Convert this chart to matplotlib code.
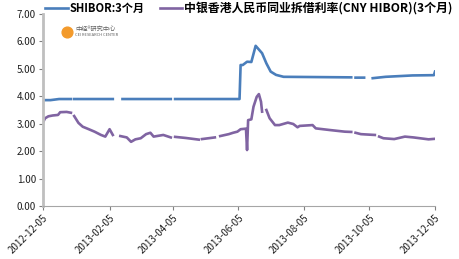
import numpy as np
import pandas as pd
import matplotlib
matplotlib.use("Agg")
import matplotlib.pyplot as plt
import matplotlib.dates as mdates
from matplotlib.lines import Line2D

plt.rcParams['font.family'] = ['Noto Sans CJK SC', 'DejaVu Sans']

nan = np.nan

# SHIBOR 3个月 (NaN = holiday gaps)
shibor_dates = ['2012-12-05', '2012-12-12', '2012-12-20', '2012-12-31', '2013-01-01',
                '2013-01-03', '2013-02-08', '2013-02-12', '2013-02-17', '2013-04-03',
                '2013-04-05', '2013-04-07', '2013-06-06', '2013-06-07', '2013-06-09',
                '2013-06-13', '2013-06-17', '2013-06-21', '2013-06-27', '2013-07-01',
                '2013-07-05', '2013-07-10', '2013-07-17', '2013-09-18', '2013-09-20',
                '2013-09-22', '2013-09-30', '2013-10-03', '2013-10-08', '2013-10-20',
                '2013-11-14', '2013-12-04', '2013-12-05']
shibor = [3.86, 3.86, 3.90, 3.90, nan,
          3.90, 3.90, nan, 3.90, 3.90,
          nan, 3.90, 3.90, 5.14, 5.14,
          5.26, 5.25, 5.84, 5.57, 5.20,
          4.90, 4.78, 4.71, 4.69, nan,
          4.68, 4.68, nan, 4.66, 4.71,
          4.76, 4.77, 4.90]

# 中银香港人民币同业拆借利率(CNY HIBOR)(3个月)
hibor_dates = ['2012-12-05', '2012-12-07', '2012-12-10', '2012-12-14', '2012-12-19',
               '2012-12-21', '2012-12-27', '2012-12-31', '2013-01-01', '2013-01-03',
               '2013-01-07', '2013-01-11', '2013-01-16', '2013-01-22', '2013-01-28',
               '2013-02-01', '2013-02-05', '2013-02-08', '2013-02-12', '2013-02-15',
               '2013-02-21', '2013-02-25', '2013-03-01', '2013-03-06', '2013-03-11',
               '2013-03-15', '2013-03-18', '2013-03-27', '2013-04-03', '2013-04-05',
               '2013-04-07', '2013-04-17', '2013-04-29', '2013-05-01', '2013-05-02',
               '2013-05-14', '2013-05-17', '2013-05-19', '2013-05-27', '2013-05-31',
               '2013-06-04', '2013-06-07', '2013-06-12', '2013-06-13', '2013-06-14',
               '2013-06-17', '2013-06-19', '2013-06-22', '2013-06-24', '2013-06-26',
               '2013-06-27', '2013-06-29', '2013-07-01', '2013-07-04', '2013-07-09',
               '2013-07-13', '2013-07-21', '2013-07-26', '2013-07-30', '2013-08-01',
               '2013-08-13', '2013-08-16', '2013-08-29', '2013-09-12', '2013-09-18',
               '2013-09-20', '2013-09-22', '2013-09-27', '2013-10-01', '2013-10-10',
               '2013-10-12', '2013-10-14', '2013-10-18', '2013-10-28', '2013-11-07',
               '2013-11-15', '2013-11-21', '2013-11-29', '2013-12-05']
hibor = [3.05, 3.20, 3.27, 3.30, 3.32,
         3.42, 3.43, 3.40, nan, 3.28,
         3.03, 2.89, 2.81, 2.71, 2.59,
         2.53, 2.80, 2.59, nan, 2.55,
         2.50, 2.34, 2.43, 2.47, 2.62,
         2.67, 2.53, 2.59, 2.50, nan,
         2.52, 2.48, 2.42, nan, 2.44,
         2.50, nan, 2.55, 2.62, 2.67,
         2.71, 2.80, 2.82, 2.04, 3.13,
         3.16, 3.62, 3.98, 4.08, 3.80,
         3.44, nan, 3.50, 3.20, 2.95,
         2.95, 3.04, 2.99, 2.87, 2.92,
         2.95, 2.83, 2.77, 2.71, 2.70,
         nan, 2.67, 2.62, 2.61, 2.59,
         nan, 2.53, 2.47, 2.44, 2.53,
         2.50, 2.47, 2.43, 2.45]

labels = ['SHIBOR:3个月', '中银香港人民币同业拆借利率(CNY HIBOR)(3个月)']
yticks = np.arange(0, 7.01, 1.0)

W, H = 459, 259
fig = plt.figure(figsize=(W / 100, H / 100), dpi=100)
ax = fig.add_axes([43 / W, 1 - 206 / H, 392 / W, 192 / H])

blue = '#4A7EBB'
purple = '#8064A2'
ax.plot(pd.to_datetime(shibor_dates), shibor, color=blue, lw=1.9,
        solid_joinstyle='round')
ax.plot(pd.to_datetime(hibor_dates), hibor, color=purple, lw=1.9,
        solid_joinstyle='round')

ax.set_xlim(pd.Timestamp('2012-12-05'), pd.Timestamp('2013-12-05'))
ax.set_ylim(0, 7)
ax.set_yticks(yticks)
ax.set_yticklabels(['%.2f' % v for v in yticks], fontsize=7)
ax.xaxis.set_major_locator(mdates.MonthLocator(bymonth=[2, 4, 6, 8, 10, 12], bymonthday=5))
ax.xaxis.set_major_formatter(mdates.DateFormatter('%Y-%m-%d'))
plt.setp(ax.get_xticklabels(), rotation=45, ha='right', rotation_mode='anchor', fontsize=7)

for s in ['top', 'right']:
    ax.spines[s].set_visible(False)
ax.spines['left'].set_color('#BFBFBF')
ax.spines['left'].set_linewidth(2.0)
ax.spines['bottom'].set_color('#A6A6A6')
ax.spines['bottom'].set_linewidth(0.8)
ax.tick_params(axis='both', direction='out', length=3, width=0.8, color='#808080',
               labelcolor='#202020', pad=2)

# legend drawn by hand so each entry can match the source widths
ly = 1 - 8 / H
fig.add_artist(Line2D([45 / W, 68 / W], [ly, ly], color=blue, lw=1.9))
fig.text(70 / W, ly, labels[0], fontsize=8.0, fontweight='bold', va='center')
fig.add_artist(Line2D([160 / W, 182 / W], [ly, ly], color=purple, lw=1.9))
fig.text(184 / W, ly, labels[1], fontsize=8.6, fontweight='bold', va='center')

# watermark logo
ax.scatter([pd.Timestamp('2012-12-27')], [6.36], s=60, color='#F39A2B', zorder=1)
ax.text(pd.Timestamp('2013-01-04'), 6.46, '中经®研究中心', fontsize=4.5,
        color='#606060', va='center')
ax.text(pd.Timestamp('2013-01-04'), 6.24, 'CEI RESEARCH CENTER', fontsize=2.9,
        color='#606060', va='center')

fig.savefig('out.png', dpi=100)
